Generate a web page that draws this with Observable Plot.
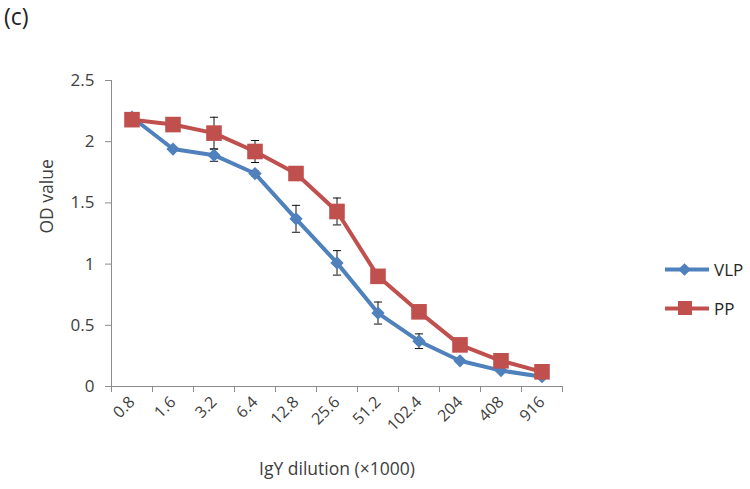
<!DOCTYPE html>
<html><head><meta charset="utf-8">
<script src="https://cdn.jsdelivr.net/npm/d3@7"></script>
<script src="https://cdn.jsdelivr.net/npm/@observablehq/plot@0.6"></script>
<style>
body{margin:0;background:#fff;font-family:"Open Sans",sans-serif;}
#wrap{position:relative;width:750px;height:489px;}
#title{position:absolute;left:4px;top:0px;font-size:23px;color:#222;}
#legend{position:absolute;left:664px;top:250px;font-size:17px;color:#262626;}
#legend div{display:flex;align-items:center;height:39px;}
</style></head>
<body>
<div id="wrap"><div id="title">(c)</div><div id="chart"></div><div id="legend"></div></div>
<script>
const dilutions = ["0.8","1.6","3.2","6.4","12.8","25.6","51.2","102.4","204","408","916"];
const vlp    = [2.20, 1.94, 1.89, 1.74, 1.37, 1.01, 0.60, 0.37, 0.21, 0.13, 0.08];
const vlpErr = [0.02, 0.01, 0.05, 0.02, 0.11, 0.10, 0.09, 0.06, 0.01, 0.01, 0.01];
const pp     = [2.18, 2.14, 2.07, 1.92, 1.74, 1.43, 0.90, 0.61, 0.34, 0.21, 0.12];
const ppErr  = [0.01, 0.01, 0.13, 0.09, 0.01, 0.11, 0.02, 0.02, 0.01, 0.01, 0.01];
const yTicks = [0, 0.5, 1, 1.5, 2, 2.5];
const seriesNames = ["VLP", "PP"];
const colors = ["#4F81BD", "#C0504D"];

const rows = [];
dilutions.forEach((d, i) => {
  rows.push({i, series: "VLP", v: vlp[i], e: vlpErr[i]});
  rows.push({i, series: "PP", v: pp[i], e: ppErr[i]});
});
const vRows = rows.filter(r => r.series === "VLP");
const pRows = rows.filter(r => r.series === "PP");
const idx = dilutions.map((d, i) => i);
const bounds = [...idx.map(i => i - 0.5), dilutions.length - 0.5];
const axisGray = "#8c8c8c";
const textCol = "#404040";

function errMarks(data) {
  return [
    Plot.ruleX(data, {x: "i", y1: d => d.v - d.e, y2: d => d.v + d.e, stroke: "#111", strokeWidth: 1}),
    Plot.link(data, {x1: d => d.i - 0.1, x2: d => d.i + 0.1, y1: d => d.v + d.e, y2: d => d.v + d.e, stroke: "#111", strokeWidth: 1}),
    Plot.link(data, {x1: d => d.i - 0.1, x2: d => d.i + 0.1, y1: d => d.v - d.e, y2: d => d.v - d.e, stroke: "#111", strokeWidth: 1})
  ];
}

const chart = Plot.plot({
  width: 750, height: 489,
  marginLeft: 111, marginRight: 188, marginTop: 80, marginBottom: 103,
  style: {fontFamily: "'Open Sans', sans-serif", color: textCol, background: "transparent"},
  x: {type: "linear", domain: [-0.5, dilutions.length - 0.5]},
  y: {domain: [0, 2.5]},
  marks: [
    Plot.ruleY([0], {stroke: axisGray}),
    Plot.ruleX([-0.5], {y1: 0, y2: 2.5, stroke: axisGray}),
    Plot.axisY({ticks: yTicks, tickSize: 6, tickPadding: 11, stroke: axisGray, fontSize: 17, label: null, tickFormat: d => String(d)}),
    Plot.axisX({ticks: bounds, tickSize: 6, tickFormat: () => "", stroke: axisGray, label: null}),
    Plot.axisX({ticks: idx, tickSize: 0, tickPadding: 13, tickRotate: -45, fontSize: 16, tickFormat: i => dilutions[i], label: null}),
    Plot.text(["OD value"], {frameAnchor: "left", dx: -64, rotate: -90, fontSize: 17.5, fill: textCol}),
    Plot.text(["IgY dilution (×1000)"], {frameAnchor: "bottom", dy: 88, fontSize: 17.5, fill: textCol}),
    Plot.line(vRows, {x: "i", y: "v", stroke: colors[0], strokeWidth: 4}),
    Plot.line(pRows, {x: "i", y: "v", stroke: colors[1], strokeWidth: 4}),
    ...errMarks(vRows),
    ...errMarks(pRows),
    Plot.dot(vRows, {x: "i", y: "v", symbol: "square", r: 5.3, rotate: 45, fill: colors[0], stroke: null}),
    Plot.dot(pRows, {x: "i", y: "v", symbol: "square", r: 8.8, fill: colors[1], stroke: null})
  ]
});
document.getElementById("chart").appendChild(chart);

const leg = document.getElementById("legend");
seriesNames.forEach((name, k) => {
  const sym = k === 0
    ? `<rect x="16" y="5" width="9" height="9" transform="rotate(45 20.5 9.5)" fill="${colors[0]}"/>`
    : `<rect x="14" y="2" width="14" height="14" fill="${colors[1]}"/>`;
  leg.insertAdjacentHTML("beforeend",
    `<div><svg width="46" height="19"><line x1="1" x2="45" y1="9.5" y2="9.5" stroke="${colors[k]}" stroke-width="4"/>${sym}</svg><span style="margin-left:4px">${name}</span></div>`);
});
</script>
</body></html>
